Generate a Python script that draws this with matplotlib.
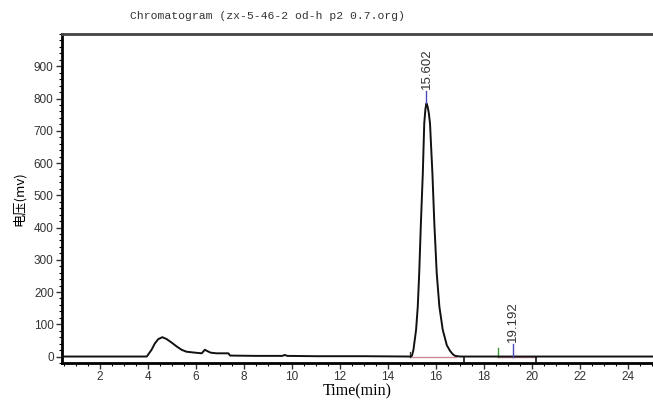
import matplotlib
matplotlib.use("Agg")
import matplotlib.pyplot as plt
from matplotlib.ticker import MultipleLocator, FixedLocator

# trace (time in min, signal in mV)
time = [0.42, 3.95, 4.15, 4.29, 4.43, 4.6, 4.78, 4.99, 5.2, 5.4, 5.6, 5.96,
        6.24, 6.37, 6.47, 6.61, 6.85, 7.35, 7.42, 8.5, 9.6, 9.7, 9.8, 11.0,
        13.0, 14.95, 15.0, 15.06, 15.17, 15.24, 15.30, 15.37, 15.45, 15.51,
        15.56, 15.602, 15.65, 15.70, 15.75, 15.85, 15.93, 16.03, 16.14,
        16.28, 16.45, 16.58, 16.70, 16.80, 17.0, 25.04]
signal = [0, 0, 21, 41, 54, 60, 54, 43, 31, 21, 15, 12,
          10, 21, 17, 12, 10, 10, 3, 2, 2, 5, 2, 1,
          1, 0, 3, 21, 83, 155, 258, 413, 568, 723,
          768, 785, 775, 755, 723, 568, 413, 258, 155,
          83, 35, 18, 7, 2, 0, 0]

peak_rt = [15.602, 19.192]
peak_apex = [785, 0]
peak_labels = ["15.602", "19.192"]
baseline_segments = [(14.95, 16.85), (18.58, 20.15)]
event_marks = [17.17, 20.15]
green_mark = 18.58
start_mark = 14.9

fig = plt.figure(figsize=(6.53, 4.03), dpi=100)
ax = fig.add_axes([0.095, 0.0993, 0.905, 0.8163])

# pink integration baselines
for a, b in baseline_segments:
    ax.plot([a, b], [0, 0], color="#d08a94", lw=1.0, zorder=2)

ax.plot(time, signal, color="#111111", lw=1.4, zorder=3)

# peak markers and retention time labels
for rt, h, lab in zip(peak_rt, peak_apex, peak_labels):
    ax.plot([rt, rt], [h, h + 38], color="#4a4ab8", lw=1.0, zorder=4)
    ax.text(rt, h + 46, lab, rotation=90, ha="center", va="bottom",
            fontsize=9.5, family="Liberation Sans", color="#333333")

ax.plot([green_mark, green_mark], [0, 26], color="#3c9a3c", lw=1.0)
ax.plot([start_mark, start_mark], [0, 14], color="#333333", lw=0.9)
for e in event_marks:
    ax.plot([e, e], [0, -20], color="#111111", lw=1.2, zorder=4)

ax.set_xlim(0.42, 25.04)
ax.set_ylim(-20, 1000)

ax.xaxis.set_major_locator(FixedLocator(list(range(2, 26, 2))))
ax.xaxis.set_minor_locator(MultipleLocator(0.5))
ax.yaxis.set_major_locator(FixedLocator(list(range(0, 1000, 100))))
ax.yaxis.set_minor_locator(MultipleLocator(20))
ax.tick_params(which="major", direction="out", length=4, width=1,
               labelsize=8.5, colors="#333333", pad=2)
ax.tick_params(which="minor", direction="out", length=2, width=0.8)
for lab in ax.get_xticklabels() + ax.get_yticklabels():
    lab.set_family("Liberation Sans")

ax.spines["right"].set_visible(False)
ax.spines["left"].set_linewidth(2)
ax.spines["bottom"].set_linewidth(2)
ax.spines["top"].set_linewidth(2)
ax.spines["top"].set_color("#444444")

# title sits left of the axes centre in the original
fig.text(268 / 653, 1 - 16 / 403, "Chromatogram (zx-5-46-2 od-h p2 0.7.org)",
         ha="center", va="center", fontsize=8.2, family="Liberation Mono",
         color="#333333")
ax.set_xlabel("Time(min)", fontsize=11.5, family="Liberation Serif",
              labelpad=0)
ax.set_ylabel("电压(mv)", fontsize=9.5,
              family=["Noto Sans CJK SC", "DejaVu Sans"], labelpad=6)

fig.savefig("out.png", dpi=100)
